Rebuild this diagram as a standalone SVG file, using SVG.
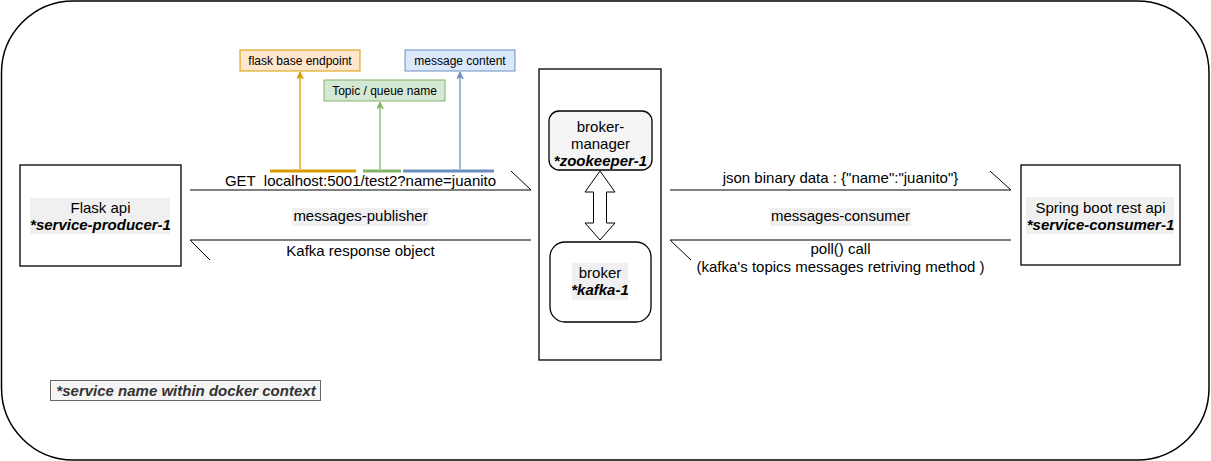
<svg xmlns="http://www.w3.org/2000/svg" width="1211" height="461" viewBox="0 0 1211 461">
<defs>
<style>
text{font-family:"Liberation Sans",Arial,Helvetica,sans-serif;font-size:15px;fill:#000;text-anchor:middle;white-space:pre}
.bi{font-weight:bold;font-style:italic}
.sm{font-size:12px}
.box{fill:#fff;stroke:#000;stroke-width:1.3}
.lbg{fill:#f0f0f0;stroke:none}
.ln{fill:none;stroke:#000;stroke-width:1}
</style>
<marker id="aO" viewBox="0 0 10 10" refX="10" refY="5" markerWidth="7" markerHeight="7" orient="auto" markerUnits="userSpaceOnUse"><path d="M0,0 L10,5 L0,10 L3,5 Z" fill="#d79b00" stroke="#d79b00"/></marker>
<marker id="aG" viewBox="0 0 10 10" refX="10" refY="5" markerWidth="7" markerHeight="7" orient="auto" markerUnits="userSpaceOnUse"><path d="M0,0 L10,5 L0,10 L3,5 Z" fill="#82b366" stroke="#82b366"/></marker>
<marker id="aB" viewBox="0 0 10 10" refX="10" refY="5" markerWidth="7" markerHeight="7" orient="auto" markerUnits="userSpaceOnUse"><path d="M0,0 L10,5 L0,10 L3,5 Z" fill="#6c8ebf" stroke="#6c8ebf"/></marker>
</defs>
<rect width="1211" height="461" fill="#fff"/>
<g id="frame"><rect x="1.5" y="1" width="1207.5" height="459" rx="72" ry="72" fill="none" stroke="#000" stroke-width="1.5"/></g>

<g id="flask-api">
<rect class="box" x="20" y="165" width="161" height="101"/>
<rect class="lbg" x="30" y="198" width="140" height="36"/>
<text x="100.5" y="213">Flask api</text>
<text class="bi" x="100.5" y="230">*service-producer-1</text>
</g>

<g id="spring-api">
<rect class="box" x="1021" y="165" width="159" height="100"/>
<rect class="lbg" x="1026" y="197" width="148" height="37"/>
<text x="1100.5" y="213">Spring boot rest api</text>
<text class="bi" x="1100.5" y="230">*service-consumer-1</text>
</g>

<g id="broker-container">
<rect class="box" x="539" y="69" width="122" height="291"/>
</g>

<g id="zookeeper">
<rect x="549" y="111" width="103" height="59" rx="10" fill="#f5f5f5" stroke="#000" stroke-width="1.3"/>
<text x="600.5" y="132">broker-</text>
<text x="600.5" y="149">manager</text>
<text class="bi" x="600.5" y="166">*zookeeper-1</text>
</g>

<g id="kafka">
<rect class="box" x="550" y="242" width="101" height="80" rx="15"/>
<rect class="lbg" x="572" y="263" width="56" height="37"/>
<text x="600" y="278">broker</text>
<text class="bi" x="600" y="295">*kafka-1</text>
</g>

<g id="label-flask-endpoint">
<rect x="240" y="50" width="120" height="21" fill="#ffe6cc" stroke="#d79b00"/>
<text class="sm" x="300" y="65">flask base endpoint</text>
</g>
<g id="label-topic">
<rect x="324" y="80" width="121" height="21" fill="#d5e8d4" stroke="#82b366"/>
<text class="sm" x="384.5" y="95">Topic / queue name</text>
</g>
<g id="label-message">
<rect x="405" y="50" width="110" height="21" fill="#dae8fc" stroke="#6c8ebf"/>
<text class="sm" x="460" y="65">message content</text>
</g>

<g id="legend">
<rect x="50.5" y="380.5" width="270" height="20" fill="#f5f5f5" stroke="#666"/>
<text class="bi" x="186" y="396" style="fill:#333">*service name within docker context</text>
</g>

<g id="connectors">
<line x1="270" y1="171" x2="356" y2="171" stroke="#d79b00" stroke-width="3"/>
<line x1="363" y1="171" x2="401" y2="171" stroke="#82b366" stroke-width="3"/>
<line x1="403" y1="171" x2="494" y2="171" stroke="#6c8ebf" stroke-width="3"/>
<line x1="300" y1="169" x2="300" y2="72" stroke="#d79b00" stroke-width="1.3" marker-end="url(#aO)"/>
<line x1="380" y1="169" x2="380" y2="102" stroke="#82b366" stroke-width="1.3" marker-end="url(#aG)"/>
<line x1="460" y1="169" x2="460" y2="72" stroke="#6c8ebf" stroke-width="1.3" marker-end="url(#aB)"/>

<path class="ln" d="M190,190 H531 L511,171"/>
<path class="ln" d="M531,240 H190 L210,260"/>
<path class="ln" d="M670,190 H1011 L990,171"/>
<path class="ln" d="M1011,240 H670 L691,260"/>

<path d="M600,171 L615,192 L606.5,192 L606.5,223 L615,223 L600,240 L585,223 L593.5,223 L593.5,192 L585,192 Z" fill="#fff" stroke="#000" stroke-width="1"/>

<text x="360.5" y="186" xml:space="preserve">GET  localhost:5001/test2?name=juanito</text>
<rect class="lbg" x="292" y="208" width="137" height="18"/>
<text x="360.5" y="221">messages-publisher</text>
<text x="360.5" y="256">Kafka response object</text>

<text x="840.5" y="183">json binary data : {"name":"juanito"}</text>
<rect class="lbg" x="770" y="208" width="141" height="18"/>
<text x="840.5" y="221">messages-consumer</text>
<text x="840.5" y="254">poll() call</text>
<text x="840.5" y="272">(kafka's topics messages retriving method )</text>
</g>
</svg>
